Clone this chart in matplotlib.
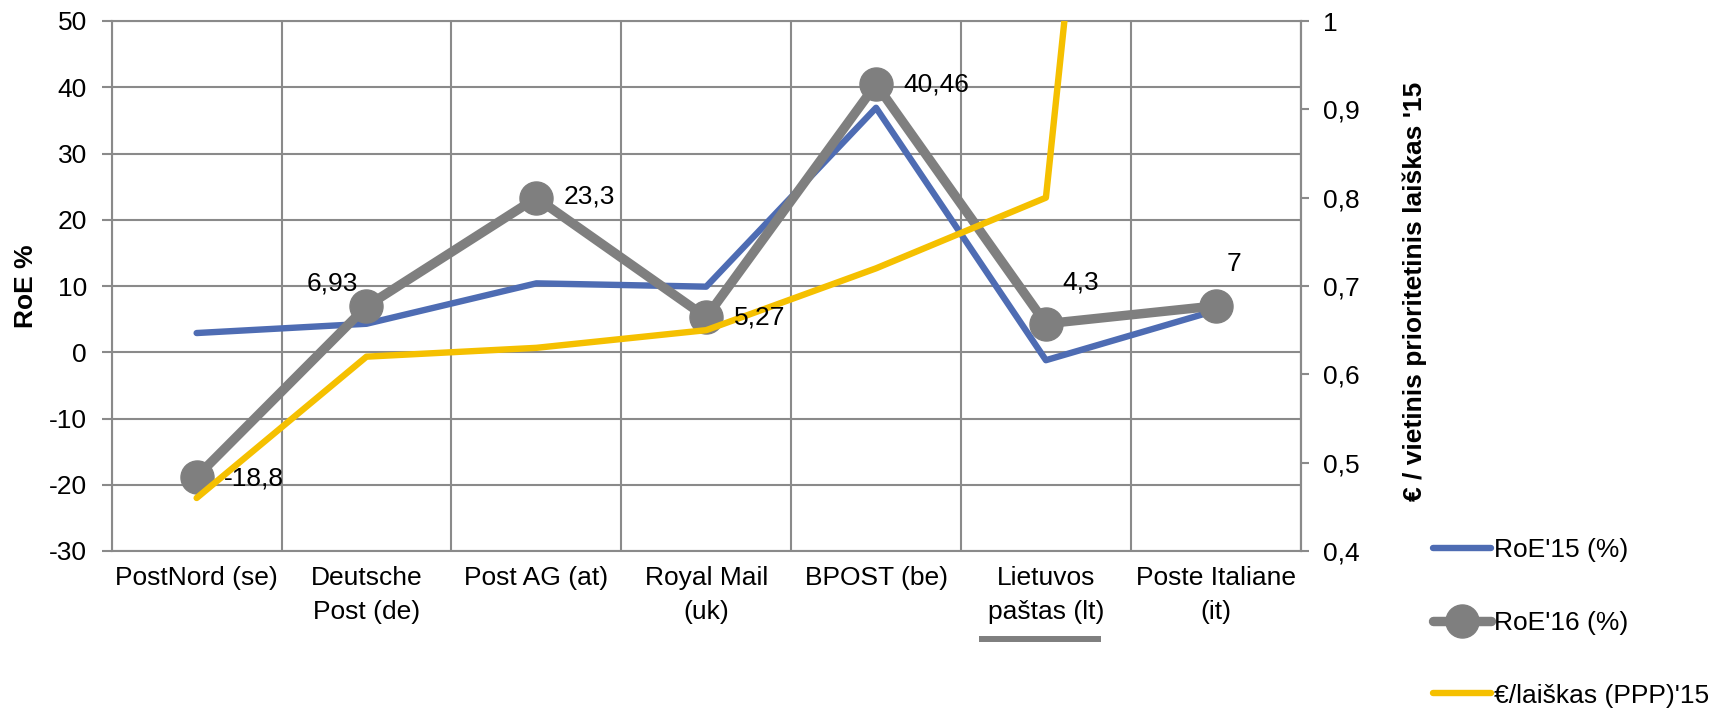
import numpy as np
import matplotlib
matplotlib.use("Agg")
import matplotlib.pyplot as plt
import matplotlib.transforms as mtransforms
from matplotlib.ticker import FuncFormatter

plt.rcParams["font.family"] = ["Liberation Sans", "DejaVu Sans"]
plt.rcParams["axes.unicode_minus"] = False

categories = ["PostNord (se)", "Deutsche\nPost (de)", "Post AG (at)", "Royal Mail\n(uk)",
              "BPOST (be)", "Lietuvos\npaštas (lt)", "Poste Italiane\n(it)"]
roe15 = [2.9, 4.3, 10.4, 9.9, 36.9, -1.2, 6.3]
roe16 = [-18.8, 6.93, 23.3, 5.27, 40.46, 4.3, 7]
roe16_labels = ["-18,8", "6,93", "23,3", "5,27", "40,46", "4,3", "7"]
price15 = [0.46, 0.62, 0.63, 0.65, 0.72, 0.80, 2.64]

BLUE = "#4E6CB3"
GRAY = "#7F7F7F"
YELLOW = "#F5C000"
GRID = "#8A8A8A"
FS = 19

fig = plt.figure(figsize=(17.21, 7.09), dpi=100)
ax = fig.add_axes([111.7 / 1721, 1 - 551 / 709, 1189 / 1721, 530 / 709])
ax2 = ax.twinx()

x = np.arange(len(categories))

# left axis series
l1, = ax.plot(x, roe15, color=BLUE, lw=4.6, solid_capstyle="round",
              solid_joinstyle="round", zorder=3, label="RoE'15 (%)")
l2, = ax.plot(x, roe16, color=GRAY, lw=6.8, marker="o", markersize=23.8,
              solid_capstyle="round", solid_joinstyle="round", zorder=4,
              label="RoE'16 (%)")

# right axis series
l3, = ax2.plot(x, price15, color=YELLOW, lw=4.6, solid_capstyle="round",
               solid_joinstyle="round", zorder=3, label="€/laiškas (PPP)'15")

ax.set_xlim(-0.5, 6.5)
ax.set_ylim(-30, 50)
ax2.set_ylim(0.4, 1.0)

ax.set_yticks(np.arange(-30, 51, 10))
ax.set_xticks(x)
ax.set_xticklabels(categories, fontsize=FS, linespacing=1.5)
ax.set_xticks(np.arange(-0.5, 7, 1), minor=True)
ax.tick_params(axis="x", which="both", length=0, pad=11)
ax.tick_params(axis="y", direction="out", length=7.2, width=1.5, color=GRID,
               labelsize=FS, pad=10.6)

ax.grid(axis="y", which="major", color=GRID, lw=1.5)
ax.grid(axis="x", which="minor", color=GRID, lw=1.5)
ax.set_axisbelow(True)
for s in ax.spines.values():
    s.set_color(GRID)
    s.set_linewidth(1.5)

ax2.set_yticks(np.arange(0.4, 1.01, 0.1))
ax2.yaxis.set_major_formatter(FuncFormatter(lambda v, p: f"{v:.1f}".rstrip("0").rstrip(".").replace(".", ",")))
ax2.tick_params(axis="y", direction="out", length=5.8, width=1.5, color=GRID,
                labelsize=FS, pad=10.4)
for k, s in ax2.spines.items():
    s.set_visible(k == "right")
ax2.spines["right"].set_color(GRID)
ax2.spines["right"].set_linewidth(1.5)

ax.set_ylabel("RoE %", fontsize=FS, fontweight="bold")
ax.yaxis.set_label_coords(-0.062, 0.50)
ax2.set_ylabel("€ / vietinis prioritetinis laiškas '15", fontsize=FS, fontweight="bold")
ax2.yaxis.set_label_coords(1.0852, 0.489)

# data labels for RoE'16 (offsets in px -> points)
offsets = [(27, -2, "left"), (-8, 23, "right"), (27, 1, "left"), (28, 0, "left"),
           (27, 0, "left"), (35, 41, "center"), (18, 42, "center")]
for i, (v, txt) in enumerate(zip(roe16, roe16_labels)):
    dx, dy, ha = offsets[i]
    ax2.annotate(txt, xy=(i, v), xycoords=ax.transData,
                 xytext=(dx * 0.72, dy * 0.72), textcoords="offset points",
                 ha=ha, va="center", fontsize=FS, zorder=6)

# grey underline under the Lietuvos label
trans = mtransforms.blended_transform_factory(ax.transData, ax.transAxes)
ax.plot([4.605, 5.324], [-0.166, -0.166], transform=trans, clip_on=False,
        color=GRAY, lw=4.3, solid_capstyle="butt")

fig.legend(handles=[l1, l2, l3], loc="upper left",
           bbox_to_anchor=(1433 / 1721, 1 - 538 / 709), frameon=False,
           fontsize=FS, handlelength=2.2, handletextpad=0.1,
           labelspacing=1.85, borderpad=0, borderaxespad=0)

fig.savefig("out.png", dpi=100)
